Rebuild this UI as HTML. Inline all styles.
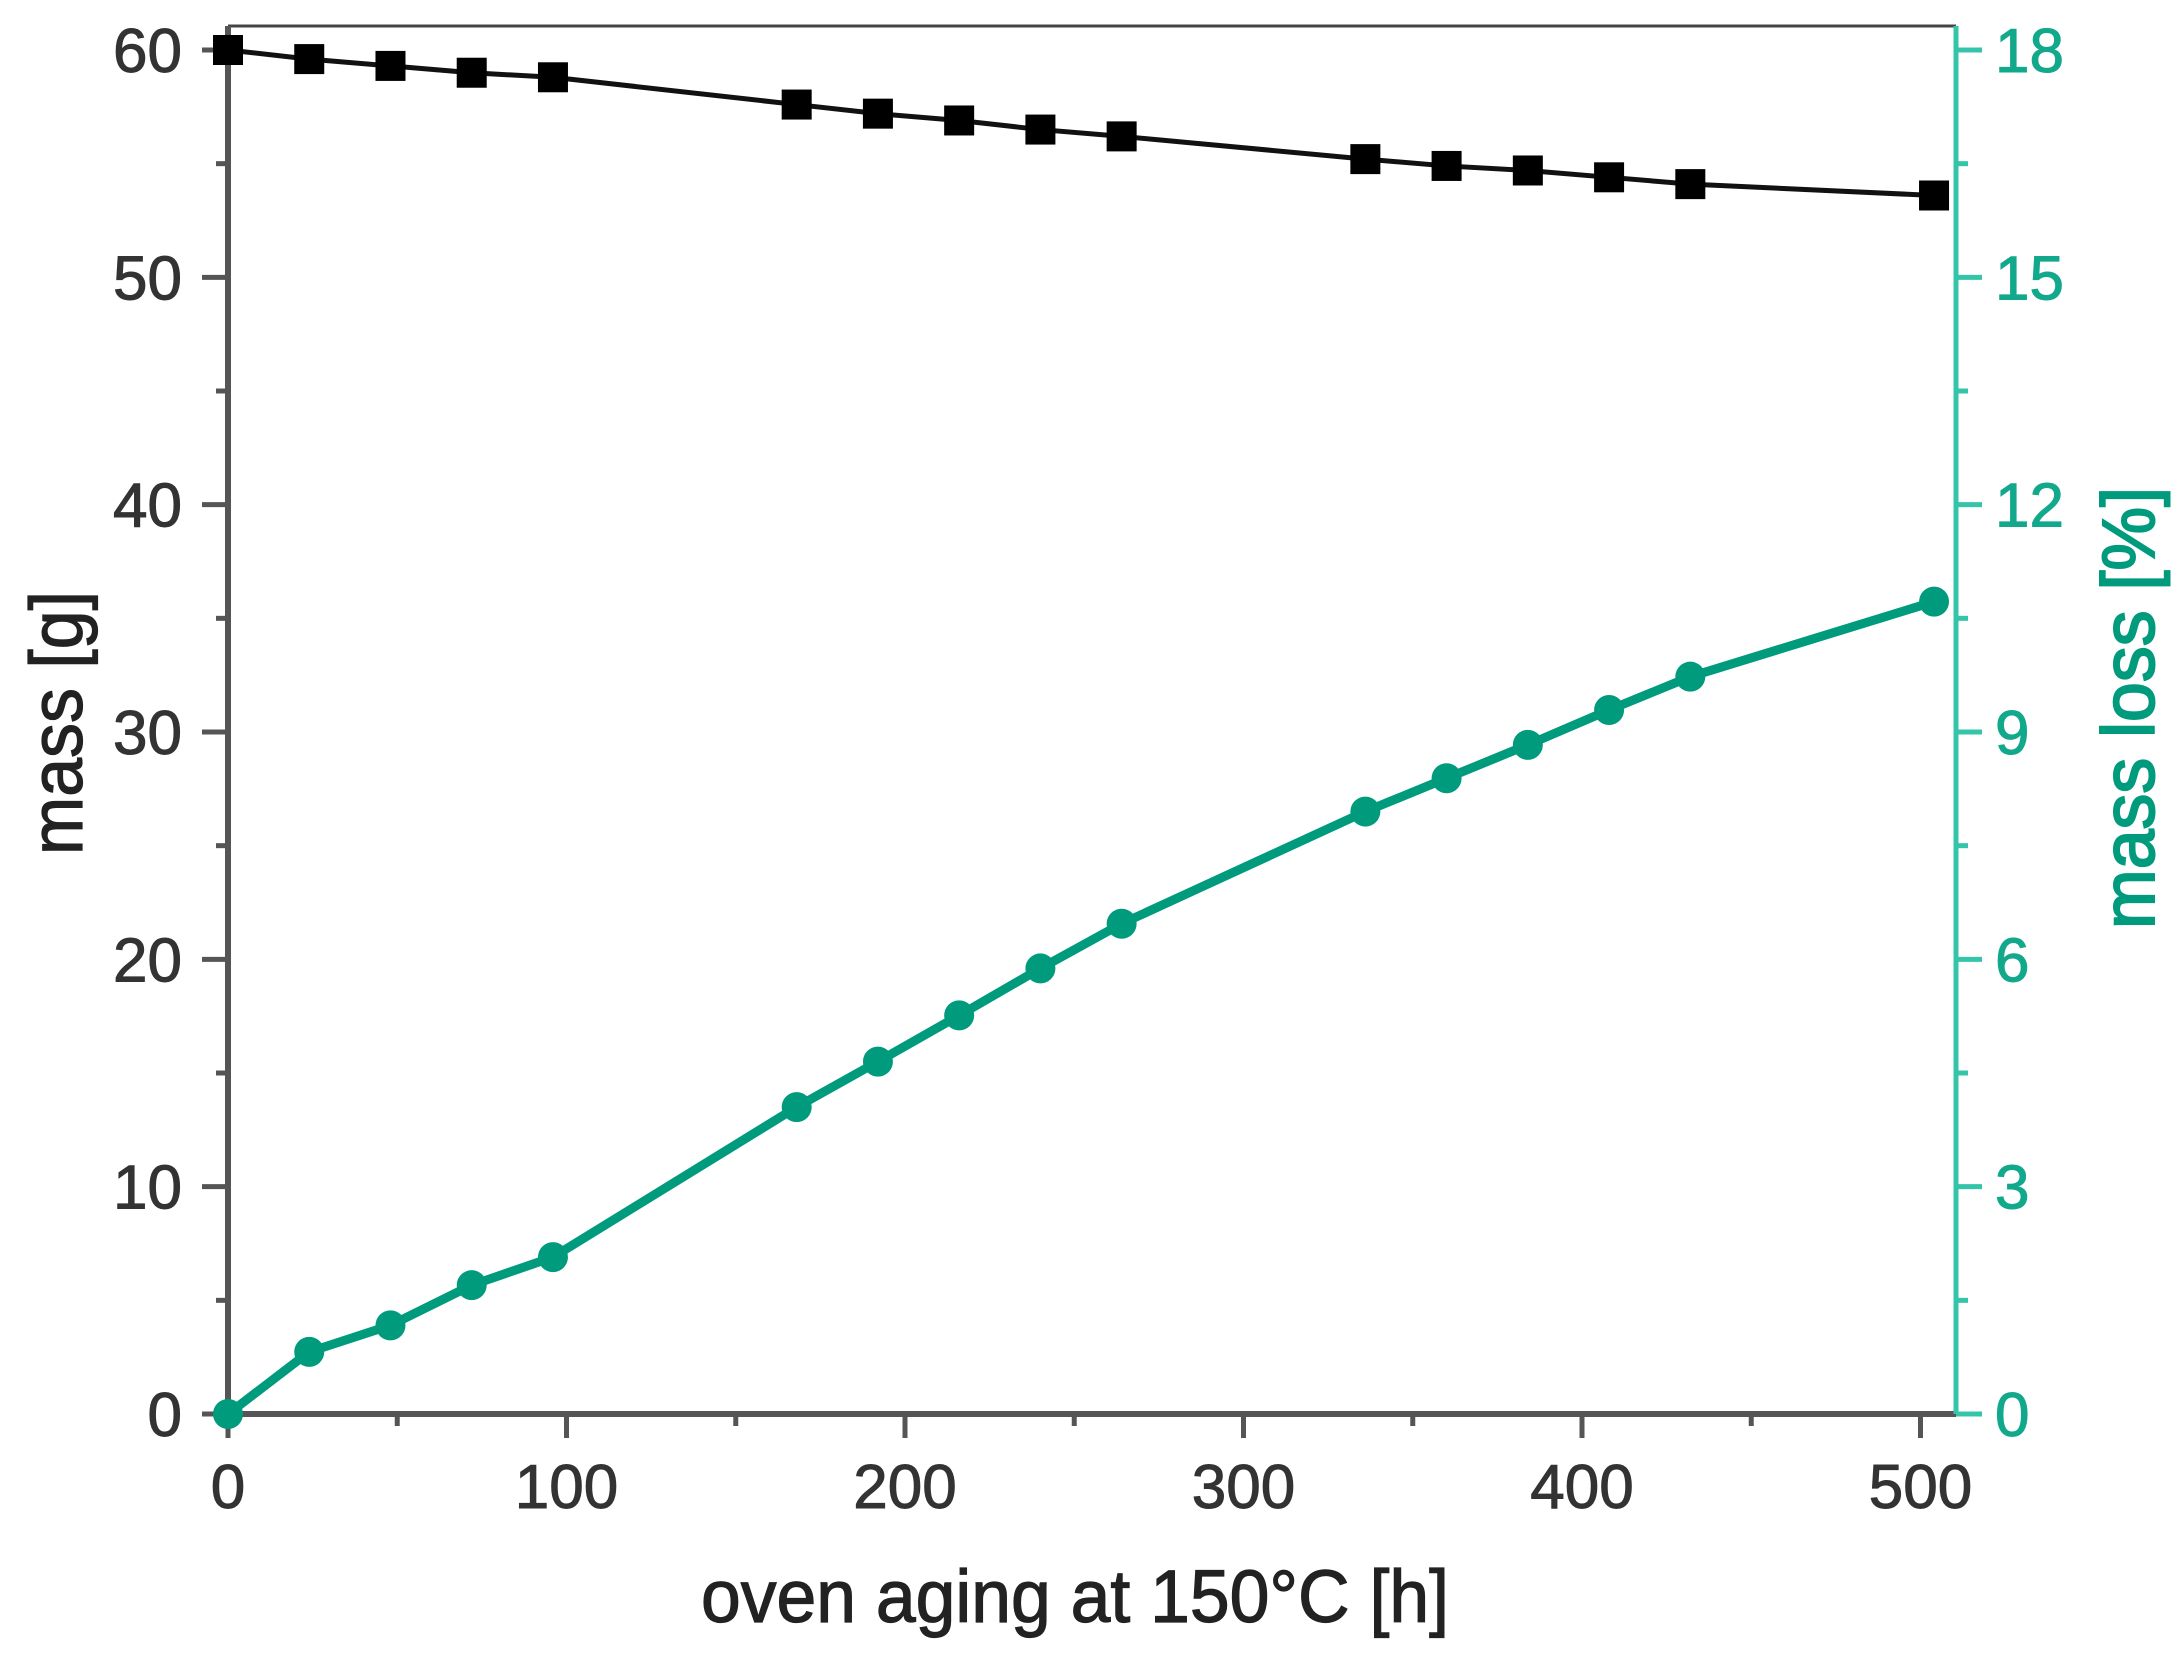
<!DOCTYPE html>
<html><head><meta charset="utf-8"><style>
html,body{margin:0;padding:0;background:#fff;}
svg{display:block;font-family:"Liberation Sans",Arial,sans-serif;}
</style></head><body>
<svg id="chart" width="2180" height="1657" viewBox="0 0 2180 1657" xmlns="http://www.w3.org/2000/svg"></svg>
<script>
const hours = [0,24,48,72,96,168,192,216,240,264,336,360,384,408,432,504];
const massValues = [60,59.6,59.3,59.0,58.8,57.6,57.2,56.9,56.5,56.2,55.2,54.9,54.7,54.4,54.1,53.6];
const lossValues = [0,0.82,1.17,1.70,2.07,4.05,4.65,5.26,5.88,6.47,7.95,8.39,8.83,9.29,9.73,10.72];
const xTicks = [0,100,200,300,400,500];
const yLeftTicks = [0,10,20,30,40,50,60];
const yRightTicks = [0,3,6,9,12,15,18];

const svg = document.getElementById('chart');
const NS = 'http://www.w3.org/2000/svg';
const L=228, R=1956, T=26, B=1414;
const X0=228, PXH=3.385;
const Y0=1414, PXG=(1414-50)/60, PXP=(1414-50)/18;
const xs = v => X0 + v*PXH;
const yl = v => Y0 - v*PXG;
const yr = v => Y0 - v*PXP;
const TEAL='#009b7d', TEALAX='#33c4aa', GRAY='#555';

function el(tag, attrs, parent){
  const e=document.createElementNS(NS,tag);
  for(const k in attrs) e.setAttribute(k,attrs[k]);
  (parent||svg).appendChild(e); return e;
}

const frame = el('g',{});


el('line',{x1:L,y1:T,x2:R,y2:T,stroke:'#444','stroke-width':3},frame);
el('line',{x1:L,y1:T,x2:L,y2:B,stroke:GRAY,'stroke-width':6},frame);
el('line',{x1:L,y1:B,x2:R,y2:B,stroke:GRAY,'stroke-width':6},frame);
el('line',{x1:R,y1:T,x2:R,y2:B,stroke:TEALAX,'stroke-width':5},frame);

const xAxis = el('g',{});


for(let v=0; v<=500; v+=50){
  const major = v%100===0;
  el('line',{x1:xs(v),y1:B,x2:xs(v),y2:B+(major?24:12),stroke:GRAY,'stroke-width':5},xAxis);
}
xTicks.forEach(v=>{
  const t=el('text',{x:xs(v),y:1508,'text-anchor':'middle','font-size':62,fill:'#333',stroke:'#333','stroke-width':1},xAxis);
  
  
  t.textContent=v;
});
const xt=el('text',{x:1075,y:1622,'text-anchor':'middle','font-size':74,fill:'#222',stroke:'#222','stroke-width':1.2,textLength:748,lengthAdjust:'spacingAndGlyphs'});


xt.textContent='oven aging at 150°C [h]';

const yAxL = el('g',{});


for(let v=0; v<=60; v+=5){
  const major=v%10===0;
  el('line',{x1:L,y1:yl(v),x2:L-(major?26:12),y2:yl(v),stroke:GRAY,'stroke-width':5},yAxL);
}
yLeftTicks.forEach(v=>{
  const t=el('text',{x:182,y:yl(v)+22,'text-anchor':'end','font-size':62,fill:'#333',stroke:'#333','stroke-width':1},yAxL);
  
  
  t.textContent=v;
});
const lt=el('text',{x:0,y:0,'text-anchor':'middle','font-size':74,fill:'#222',stroke:'#222','stroke-width':1.2,textLength:264,lengthAdjust:'spacingAndGlyphs',transform:'translate(82,723) rotate(-90)'});


lt.textContent='mass [g]';

const yAxR = el('g',{});


for(let v=0; v<=18; v+=1.5){
  const major=v%3===0;
  el('line',{x1:R,y1:yr(v),x2:R+(major?26:12),y2:yr(v),stroke:TEALAX,'stroke-width':5},yAxR);
}
yRightTicks.forEach(v=>{
  const t=el('text',{x:1995,y:yr(v)+22,'text-anchor':'start','font-size':62,fill:'#12a88c',stroke:'#12a88c','stroke-width':1},yAxR);
  
  
  t.textContent=v;
});
const rt=el('text',{x:0,y:0,'text-anchor':'middle','font-size':74,fill:TEAL,stroke:TEAL,'stroke-width':2,textLength:442,lengthAdjust:'spacingAndGlyphs',transform:'translate(2154,708) rotate(-90)'});


rt.textContent='mass loss [%]';

const gm=el('g',{});


el('polyline',{points:hours.map((h,i)=>xs(h)+','+yl(massValues[i])).join(' '),fill:'none',stroke:'#111','stroke-width':5},gm);
hours.forEach((h,i)=>{
  const r=el('rect',{x:xs(h)-15,y:yl(massValues[i])-15,width:30,height:30,fill:'#000'},gm);
  
  
});

const gl=el('g',{});


el('polyline',{points:hours.map((h,i)=>xs(h)+','+yr(lossValues[i])).join(' '),fill:'none',stroke:TEAL,'stroke-width':9,'stroke-linejoin':'round'},gl);
hours.forEach((h,i)=>{
  const c=el('circle',{cx:xs(h),cy:yr(lossValues[i]),r:15,fill:TEAL},gl);
  
  
});
</script>
</body></html>
